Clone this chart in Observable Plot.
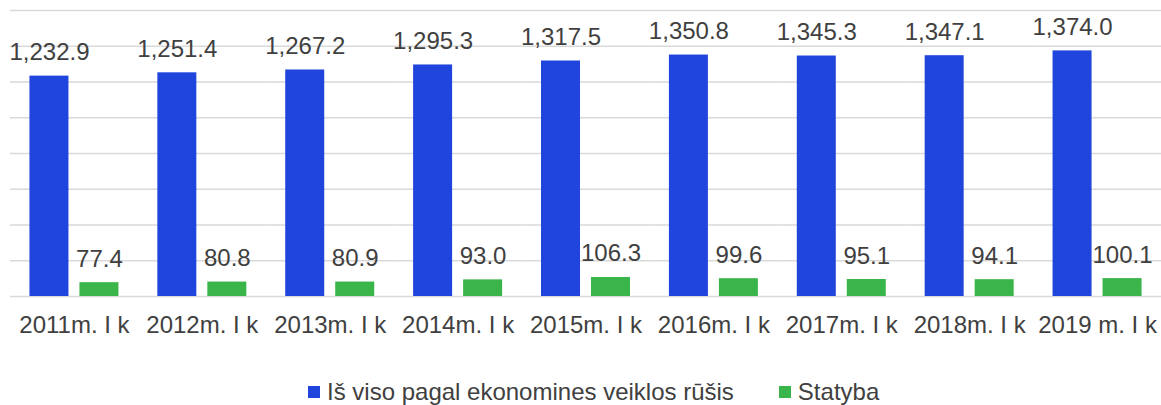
<!DOCTYPE html>
<html>
<head>
<meta charset="utf-8">
<script src="https://cdn.jsdelivr.net/npm/d3@7"></script>
<script src="https://cdn.jsdelivr.net/npm/@observablehq/plot@0.6"></script>
<style>
  body { margin: 0; background: #fff; font-family: "Liberation Sans", Arial, sans-serif; }
  #chart svg { display: block; }
  .legend { display: flex; align-items: center; height: 30px; line-height: 30px; font-size: 24px; color: #404040; padding-left: 308px; }
  .legend .item { display: flex; align-items: center; }
  .legend .sw { width: 12px; height: 12px; margin-right: 7px; }
</style>
</head>
<body>
<div id="chart"></div>
<div class="legend" id="legend"></div>
<script>
const categories = ["2011m. I k", "2012m. I k", "2013m. I k", "2014m. I k", "2015m. I k", "2016m. I k", "2017m. I k", "2018m. I k", "2019 m. I k"];
const totalValues = [1232.9, 1251.4, 1267.2, 1295.3, 1317.5, 1350.8, 1345.3, 1347.1, 1374.0];
const constructionValues = [77.4, 80.8, 80.9, 93.0, 106.3, 99.6, 95.1, 94.1, 100.1];
const seriesNames = ["Iš viso pagal ekonomines veiklos rūšis", "Statyba"];
const seriesColors = ["#1f45dc", "#3ab54a"];
const yTicks = [0, 200, 400, 600, 800, 1000, 1200, 1400, 1600];

const data = [];
categories.forEach((c, i) => {
  data.push({cat: c, series: seriesNames[0], value: totalValues[i]});
  data.push({cat: c, series: seriesNames[1], value: constructionValues[i]});
});
const fmt = d3.format(",.1f");

const chart = Plot.plot({
  width: 1161,
  height: 377,
  marginLeft: 10,
  marginRight: 0,
  marginTop: 10,
  marginBottom: 81,
  style: {fontFamily: "'Liberation Sans', Arial, sans-serif", color: "#404040", background: "#fff"},
  fx: {domain: categories, padding: 0, round: false, label: null},
  x: {domain: seriesNames, paddingInner: 0.22, paddingOuter: 0.389, round: false, axis: null},
  y: {domain: [0, 1600], axis: null},
  color: {domain: seriesNames, range: seriesColors},
  marks: [
    Plot.gridY(yTicks, {stroke: "#d9d9d9", strokeOpacity: 1, strokeWidth: 1.5}),
    Plot.barY(data, {fx: "cat", x: "series", y: "value", fill: "series"}),
    Plot.text(data, {fx: "cat", x: "series", y: "value", text: d => fmt(d.value), lineAnchor: "bottom", dy: -16, fontSize: 24, fill: "#404040"}),
    Plot.axisFx({anchor: "bottom", tickSize: 0, tickPadding: 19, fontSize: 24, label: null})
  ]
});
document.getElementById("chart").appendChild(chart);

const legend = document.getElementById("legend");
seriesNames.forEach((name, i) => {
  const item = document.createElement("div");
  item.className = "item";
  if (i > 0) item.style.marginLeft = "45px";
  const sw = document.createElement("span");
  sw.className = "sw";
  sw.style.background = seriesColors[i];
  const label = document.createElement("span");
  label.textContent = name;
  item.appendChild(sw);
  item.appendChild(label);
  legend.appendChild(item);
});
</script>
</body>
</html>
